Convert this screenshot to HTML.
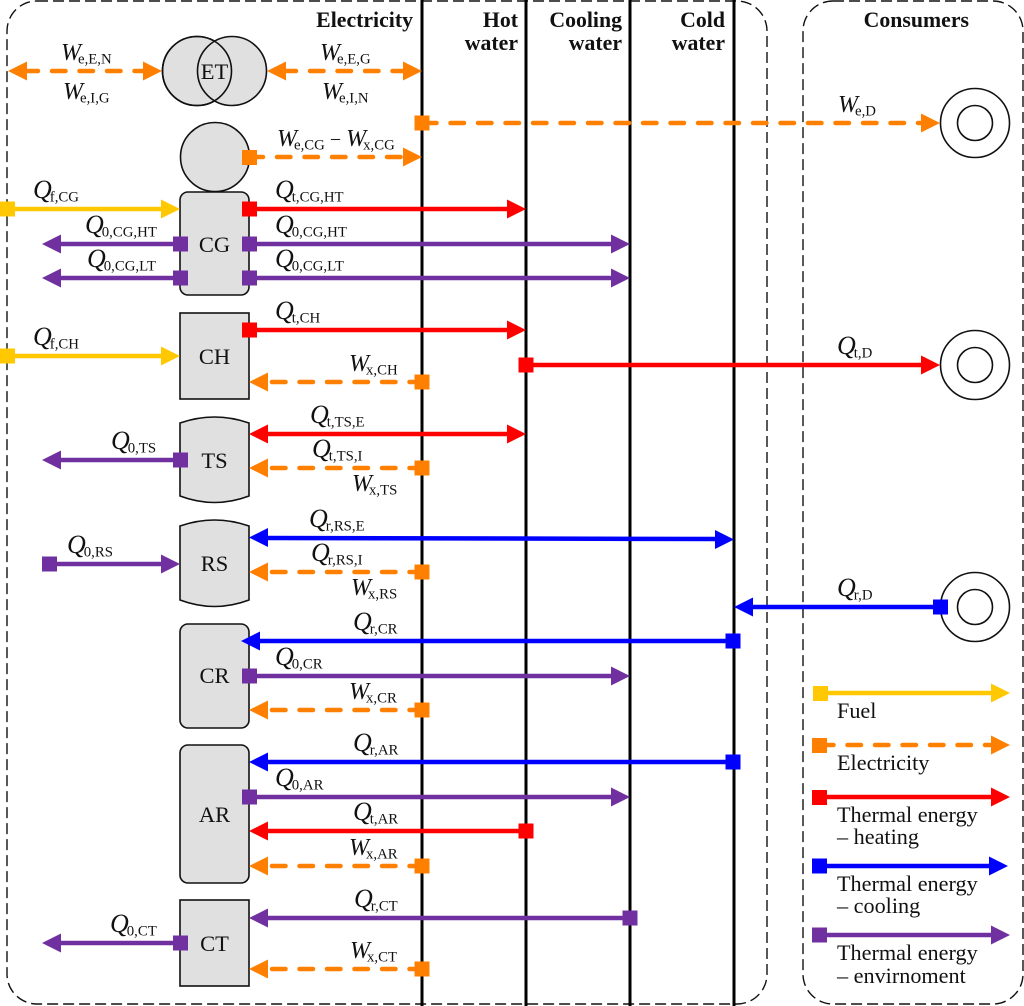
<!DOCTYPE html>
<html><head><meta charset="utf-8"><style>
html,body{margin:0;padding:0;background:#fff}
svg{display:block}
text{font-family:"Liberation Serif",serif;fill:#111}
.l{font-size:23px}
.l .v{font-style:italic;font-size:24px}
.l .q{font-style:italic;font-size:26px}
.l .s{font-size:14.8px}
.h{font-size:21.8px;font-weight:bold;text-anchor:end}
.b{font-size:22.5px;text-anchor:middle}
.k{font-size:22.2px}
.n{fill:#e0e0e0;stroke:#111;stroke-width:1.6}
.c{fill:#fff;stroke:#111;stroke-width:1.6}
.Y{stroke:#ffc800;fill:#ffc800}.O{stroke:#ff8000;fill:#ff8000}.R{stroke:#f00;fill:#f00}.B{stroke:#00f;fill:#00f}.P{stroke:#7030a0;fill:#7030a0}
line.a{stroke-width:4.5}
line.d{stroke-width:4.5;stroke-dasharray:13.5 14;stroke-linecap:round}
polygon,rect.q{stroke:none}
</style></head><body>
<svg width="1024" height="1006" viewBox="0 0 1024 1006" xmlns="http://www.w3.org/2000/svg">
<rect x="7" y="1" width="760" height="1003" rx="30" fill="none" stroke="#111" stroke-width="1.4" stroke-dasharray="11 5"/>
<rect x="803" y="1" width="220" height="1003" rx="30" fill="none" stroke="#111" stroke-width="1.4" stroke-dasharray="11 5"/>
<g stroke="#000" stroke-width="3">
<line x1="422" y1="0" x2="422" y2="1006"/><line x1="526" y1="0" x2="526" y2="1006"/><line x1="630" y1="0" x2="630" y2="1006"/><line x1="734" y1="0" x2="734" y2="1006"/>
</g>

<!-- nodes -->
<circle class="n" cx="197" cy="71" r="34.5"/><circle class="n" cx="232" cy="71" r="34.5"/>
<circle cx="197" cy="71" r="34.5" fill="none" stroke="#111" stroke-width="1.6"/>
<circle class="n" cx="215" cy="157" r="34.5"/>
<rect class="n" x="180" y="192" width="69" height="103" rx="8"/>
<rect class="n" x="180" y="313" width="69" height="86"/>
<path class="n" d="M180 423Q214.500 411 249 423V496Q214.500 509 180 496Z"/>
<path class="n" d="M180 526Q214.500 514 249 526V600Q214.500 613 180 600Z"/>
<rect class="n" x="180" y="624" width="69" height="104" rx="8"/>
<rect class="n" x="180" y="745" width="69" height="138" rx="8"/>
<rect class="n" x="180" y="900" width="69" height="86"/>
<circle class="c" cx="975" cy="123" r="34.500"/><circle class="c" cx="975" cy="123" r="17.500"/>
<circle class="c" cx="975" cy="365" r="34.500"/><circle class="c" cx="975" cy="365" r="17.500"/>
<circle class="c" cx="975" cy="607" r="34.500"/><circle class="c" cx="975" cy="607" r="17.500"/>

<!-- orange -->
<g class="O">
<line class="d" x1="24.500" y1="71" x2="143" y2="71"/><polygon points="8,71 27,61.500 27,80.500"/><polygon points="162,71 143,61.500 143,80.500"/>
<line class="d" x1="282.500" y1="71" x2="403" y2="71"/><polygon points="267,71 286,61.500 286,80.500"/><polygon points="422,71 403,61.500 403,80.500"/>
<line class="d" x1="423" y1="123" x2="921" y2="123"/><polygon points="940,123 921,113.500 921,132.500"/><rect class="q" x="414.500" y="115.500" width="15" height="15"/>
<line class="d" x1="249.500" y1="157" x2="403" y2="157"/><polygon points="422,157 403,147.500 403,166.500"/><rect class="q" x="242" y="150" width="15" height="15"/>
<line class="d" x1="272" y1="382" x2="415" y2="382"/><polygon points="249,382 268,372.500 268,391.500"/><rect class="q" x="414.500" y="374.500" width="15" height="15"/>
<line class="d" x1="272" y1="468" x2="415" y2="468"/><polygon points="249,468 268,458.500 268,477.500"/><rect class="q" x="414.500" y="460.500" width="15" height="15"/>
<line class="d" x1="272" y1="572" x2="415" y2="572"/><polygon points="249,572 268,562.500 268,581.500"/><rect class="q" x="414.500" y="564.500" width="15" height="15"/>
<line class="d" x1="272" y1="710" x2="415" y2="710"/><polygon points="249,710 268,700.500 268,719.500"/><rect class="q" x="414.500" y="702.500" width="15" height="15"/>
<line class="d" x1="272" y1="866" x2="415" y2="866"/><polygon points="249,866 268,856.500 268,875.500"/><rect class="q" x="414.500" y="858.500" width="15" height="15"/>
<line class="d" x1="272" y1="969" x2="415" y2="969"/><polygon points="249,969 268,959.500 268,978.500"/><rect class="q" x="414.500" y="961.500" width="15" height="15"/>
<line class="d" x1="820" y1="745" x2="992" y2="745"/><polygon points="1010,745 991,735.500 991,754.500"/><rect class="q" x="812" y="738" width="15" height="15"/>
</g>
<!-- yellow -->
<g class="Y">
<line class="a" x1="7" y1="209" x2="162" y2="209"/><polygon points="180,209 161,199.500 161,218.500"/><rect class="q" x="0" y="201.500" width="15" height="15"/>
<line class="a" x1="7" y1="356" x2="162" y2="356"/><polygon points="180,356 161,346.500 161,365.500"/><rect class="q" x="0" y="348.500" width="15" height="15"/>
<line class="a" x1="820" y1="693" x2="992" y2="693"/><polygon points="1010,693 991,683.500 991,702.500"/><rect class="q" x="813" y="686" width="15" height="15"/>
</g>
<!-- red -->
<g class="R">
<line class="a" x1="249" y1="209" x2="508" y2="209"/><polygon points="526,209 507,199.500 507,218.500"/><rect class="q" x="242" y="201.500" width="15" height="15"/>
<line class="a" x1="249" y1="330" x2="508" y2="330"/><polygon points="526,330 507,320.500 507,339.500"/><rect class="q" x="242" y="322.500" width="15" height="15"/>
<line class="a" x1="526" y1="365" x2="922" y2="365"/><polygon points="940,365 921,355.500 921,374.500"/><rect class="q" x="518.500" y="357.500" width="15" height="15"/>
<line class="a" x1="266" y1="434" x2="508" y2="434"/><polygon points="249,434 268,424.500 268,443.500"/><polygon points="526,434 507,424.500 507,443.500"/>
<line class="a" x1="266" y1="831" x2="526" y2="831"/><polygon points="249,831 268,821.500 268,840.500"/><rect class="q" x="518.500" y="823.500" width="15" height="15"/>
<line class="a" x1="820" y1="797" x2="992" y2="797"/><polygon points="1010,797 991,787.500 991,806.500"/><rect class="q" x="812" y="790" width="15" height="15"/>
</g>
<!-- blue -->
<g class="B">
<line class="a" x1="266" y1="538" x2="716" y2="539"/><polygon points="249,537.500 268,528 268,547"/><polygon points="734,539.500 715,530 715,549"/>
<line class="a" x1="752" y1="607" x2="940" y2="607"/><polygon points="734,607 753,597.500 753,616.500"/><rect class="q" x="933" y="599.500" width="15" height="15"/>
<line class="a" x1="258" y1="641" x2="733" y2="641"/><polygon points="241,641 260,631.500 260,650.500"/><rect class="q" x="725.500" y="633.500" width="15" height="15"/>
<line class="a" x1="266" y1="762" x2="733" y2="762"/><polygon points="249,762 268,752.500 268,771.500"/><rect class="q" x="725.500" y="754.500" width="15" height="15"/>
<line class="a" x1="820" y1="866" x2="990" y2="866"/><polygon points="1008,866 989,856.500 989,875.500"/><rect class="q" x="812" y="858.500" width="15" height="15"/>
</g>
<!-- purple -->
<g class="P">
<line class="a" x1="58" y1="244" x2="180" y2="244"/><polygon points="42,244 61,234.500 61,253.500"/><rect class="q" x="173" y="236.500" width="15" height="15"/>
<line class="a" x1="249" y1="244" x2="612" y2="244"/><polygon points="630,244 611,234.500 611,253.500"/><rect class="q" x="242" y="236.500" width="15" height="15"/>
<line class="a" x1="58" y1="278" x2="180" y2="278"/><polygon points="42,278 61,268.500 61,287.500"/><rect class="q" x="173" y="270.500" width="15" height="15"/>
<line class="a" x1="249" y1="278" x2="612" y2="278"/><polygon points="630,278 611,268.500 611,287.500"/><rect class="q" x="242" y="270.500" width="15" height="15"/>
<line class="a" x1="58" y1="460" x2="180" y2="460"/><polygon points="42,460 61,450.500 61,469.500"/><rect class="q" x="173" y="452.500" width="15" height="15"/>
<line class="a" x1="49" y1="564" x2="162" y2="564"/><polygon points="180,564 161,554.500 161,573.500"/><rect class="q" x="42" y="556.500" width="15" height="15"/>
<line class="a" x1="249" y1="676" x2="612" y2="676"/><polygon points="630,676 611,666.500 611,685.500"/><rect class="q" x="242" y="668.500" width="15" height="15"/>
<line class="a" x1="249" y1="797" x2="612" y2="797"/><polygon points="630,797 611,787.500 611,806.500"/><rect class="q" x="242" y="789.500" width="15" height="15"/>
<line class="a" x1="266" y1="918" x2="630" y2="918"/><polygon points="249,918 268,908.500 268,927.500"/><rect class="q" x="622.500" y="910.500" width="15" height="15"/>
<line class="a" x1="58" y1="943" x2="180" y2="943"/><polygon points="42,943 61,933.500 61,952.500"/><rect class="q" x="173" y="935.500" width="15" height="15"/>
<line class="a" x1="820" y1="935" x2="992" y2="935"/><polygon points="1010,935 991,925.500 991,944.500"/><rect class="q" x="812" y="927.500" width="15" height="15"/>
</g>

<!-- node labels -->
<text class="b" x="214.500" y="79">ET</text>
<text class="b" x="214.500" y="252">CG</text>
<text class="b" x="214.500" y="364">CH</text>
<text class="b" x="214.500" y="468">TS</text>
<text class="b" x="214.500" y="571">RS</text>
<text class="b" x="214.500" y="683">CR</text>
<text class="b" x="214.500" y="822">AR</text>
<text class="b" x="214.500" y="951">CT</text>

<!-- headers -->
<text class="h" x="413" y="27">Electricity</text>
<text class="h" x="518" y="27">Hot</text><text class="h" x="518" y="50">water</text>
<text class="h" x="622" y="27">Cooling</text><text class="h" x="622" y="50">water</text>
<text class="h" x="725" y="27">Cold</text><text class="h" x="725" y="50">water</text>
<text class="h" x="969" y="27">Consumers</text>

<!-- flow labels -->
<g class="l">
<text x="61" y="60"><tspan class="v">W</tspan><tspan class="s" dx="-3" dy="3.500">e,E,N</tspan></text>
<text x="63" y="99"><tspan class="v">W</tspan><tspan class="s" dx="-3" dy="3.500">e,I,G</tspan></text>
<text x="320" y="60"><tspan class="v">W</tspan><tspan class="s" dx="-3" dy="3.500">e,E,G</tspan></text>
<text x="322" y="99"><tspan class="v">W</tspan><tspan class="s" dx="-3" dy="3.500">e,I,N</tspan></text>
<text x="838" y="112"><tspan class="v">W</tspan><tspan class="s" dx="-3" dy="3.500">e,D</tspan></text>
<text x="277" y="146"><tspan class="v">W</tspan><tspan class="s" dx="-3" dy="3.500">e,CG</tspan><tspan dy="-3.500" font-size="20"> − </tspan><tspan class="v">W</tspan><tspan class="s" dx="-3" dy="3.500">x,CG</tspan></text>
<text x="33" y="198"><tspan class="q">Q</tspan><tspan class="s" dx="-2" dy="3.500">f,CG</tspan></text>
<text x="275" y="198"><tspan class="q">Q</tspan><tspan class="s" dx="-2" dy="3.500">t,CG,HT</tspan></text>
<text x="85" y="233"><tspan class="q">Q</tspan><tspan class="s" dx="-2" dy="3.500">0,CG,HT</tspan></text>
<text x="275" y="233"><tspan class="q">Q</tspan><tspan class="s" dx="-2" dy="3.500">0,CG,HT</tspan></text>
<text x="87" y="267"><tspan class="q">Q</tspan><tspan class="s" dx="-2" dy="3.500">0,CG,LT</tspan></text>
<text x="275" y="267"><tspan class="q">Q</tspan><tspan class="s" dx="-2" dy="3.500">0,CG,LT</tspan></text>
<text x="275" y="319"><tspan class="q">Q</tspan><tspan class="s" dx="-2" dy="3.500">t,CH</tspan></text>
<text x="33" y="345"><tspan class="q">Q</tspan><tspan class="s" dx="-2" dy="3.500">f,CH</tspan></text>
<text x="349" y="371"><tspan class="v">W</tspan><tspan class="s" dx="-3" dy="3.500">x,CH</tspan></text>
<text x="837" y="354"><tspan class="q">Q</tspan><tspan class="s" dx="-2" dy="3.500">t,D</tspan></text>
<text x="310" y="423"><tspan class="q">Q</tspan><tspan class="s" dx="-2" dy="3.500">t,TS,E</tspan></text>
<text x="312" y="457"><tspan class="q">Q</tspan><tspan class="s" dx="-2" dy="3.500">t,TS,I</tspan></text>
<text x="352" y="491"><tspan class="v">W</tspan><tspan class="s" dx="-3" dy="3.500">x,TS</tspan></text>
<text x="111" y="449"><tspan class="q">Q</tspan><tspan class="s" dx="-2" dy="3.500">0,TS</tspan></text>
<text x="309" y="527"><tspan class="q">Q</tspan><tspan class="s" dx="-2" dy="3.500">r,RS,E</tspan></text>
<text x="311" y="561"><tspan class="q">Q</tspan><tspan class="s" dx="-2" dy="3.500">r,RS,I</tspan></text>
<text x="351" y="595"><tspan class="v">W</tspan><tspan class="s" dx="-3" dy="3.500">x,RS</tspan></text>
<text x="67" y="553"><tspan class="q">Q</tspan><tspan class="s" dx="-2" dy="3.500">0,RS</tspan></text>
<text x="837" y="596"><tspan class="q">Q</tspan><tspan class="s" dx="-2" dy="3.500">r,D</tspan></text>
<text x="353" y="630"><tspan class="q">Q</tspan><tspan class="s" dx="-2" dy="3.500">r,CR</tspan></text>
<text x="275" y="665"><tspan class="q">Q</tspan><tspan class="s" dx="-2" dy="3.500">0,CR</tspan></text>
<text x="349" y="699"><tspan class="v">W</tspan><tspan class="s" dx="-3" dy="3.500">x,CR</tspan></text>
<text x="353" y="751"><tspan class="q">Q</tspan><tspan class="s" dx="-2" dy="3.500">r,AR</tspan></text>
<text x="275" y="786"><tspan class="q">Q</tspan><tspan class="s" dx="-2" dy="3.500">0,AR</tspan></text>
<text x="353" y="820"><tspan class="q">Q</tspan><tspan class="s" dx="-2" dy="3.500">t,AR</tspan></text>
<text x="349" y="855"><tspan class="v">W</tspan><tspan class="s" dx="-3" dy="3.500">x,AR</tspan></text>
<text x="354" y="907"><tspan class="q">Q</tspan><tspan class="s" dx="-2" dy="3.500">r,CT</tspan></text>
<text x="350" y="958"><tspan class="v">W</tspan><tspan class="s" dx="-3" dy="3.500">x,CT</tspan></text>
<text x="110" y="932"><tspan class="q">Q</tspan><tspan class="s" dx="-2" dy="3.500">0,CT</tspan></text>
</g>

<!-- legend -->
<text class="k" x="837" y="718">Fuel</text>
<text class="k" x="837" y="770">Electricity</text>
<text class="k" x="837" y="822">Thermal energy</text><text class="k" x="837" y="844">– heating</text>
<text class="k" x="837" y="891">Thermal energy</text><text class="k" x="837" y="913">– cooling</text>
<text class="k" x="837" y="960">Thermal energy</text><text class="k" x="837" y="983">– envirnoment</text>
</svg>
</body></html>
